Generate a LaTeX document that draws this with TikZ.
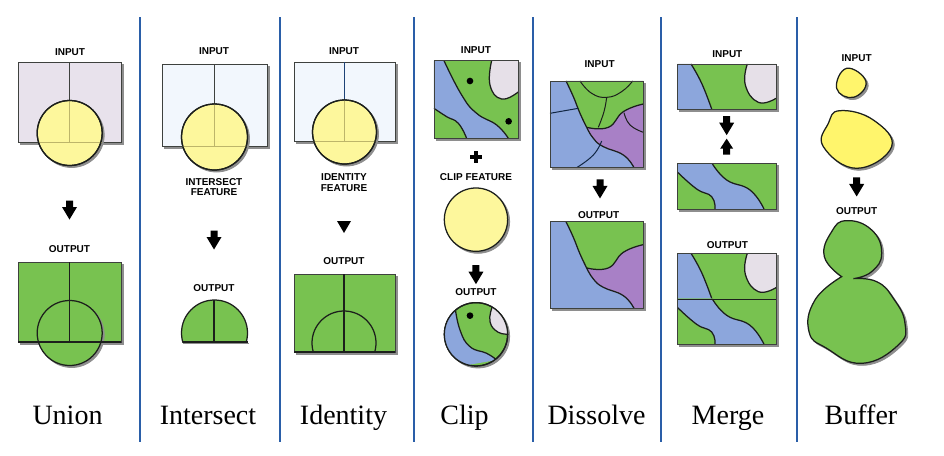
\documentclass[tikz,border=0pt]{standalone}
\usepackage{fontspec}
\setmainfont{Liberation Serif}
\newfontfamily\labelsans{Liberation Sans}
\definecolor{gr}{HTML}{78C250}
\definecolor{bl}{HTML}{8CA6DC}
\definecolor{lav}{HTML}{E6E0E8}
\definecolor{pur}{HTML}{A880C6}
\definecolor{yel}{HTML}{FDF79C}
\definecolor{yelb}{HTML}{FFF56C}
\definecolor{pblue}{HTML}{F2F7FD}
\definecolor{plav}{HTML}{E8E2EC}
\definecolor{ink}{HTML}{1C1F1C}
\definecolor{sepc}{HTML}{2A5EA8}
\definecolor{shc}{HTML}{8E8E8E}
\definecolor{faint}{HTML}{BDB56A}
\tikzset{
  x=1pt,y=-1pt,
  shad/.style={preaction={draw=shc,fill=shc,line width=.8pt,transform canvas={shift={(2pt,-2pt)}}}},
  ln/.style={draw=ink,line width=1.25pt},
  thinln/.style={draw=ink!85,line width=.9pt},
  faintln/.style={draw=faint,line width=.7pt},
  sep/.style={draw=sepc,line width=1.1pt},
  tag/.style={font=\labelsans\bfseries\fontsize{10}{10.5}\selectfont,align=center,inner sep=0pt,text=black},
  capt/.style={font=\fontsize{28}{30}\selectfont,inner sep=0pt,anchor=base,text=black},
  sm/.style={smooth,tension=.8},
  zoomB/.style={shift={(280,30)},x=.3333pt,y=-.3333pt},
  zoomC/.style={shift={(530,40)},x=.3333pt,y=-.3333pt},
  zoomD/.style={shift={(660,40)},x=.3333pt,y=-.3333pt},
  zoomE/.style={shift={(790,40)},x=.3333pt,y=-.3333pt},
  pics/dn/.style={code={\fill[black,x=1pt,y=-1pt] (-3.5,-9.5) -- (3.5,-9.5) -- (3.5,-3) -- (7.5,-3) -- (0,9.5) -- (-7.5,-3) -- (-3.5,-3) -- cycle;}},
  pics/up/.style={code={\fill[black,x=1pt,y=-1pt] (-3.5,8) -- (3.5,8) -- (3.5,2) -- (6.5,2) -- (0,-8) -- (-6.5,2) -- (-3.5,2) -- cycle;}},
  pics/plussign/.style={code={\fill[black,x=1pt,y=-1pt] (-1.6,-6) rectangle (1.6,6); \fill[black,x=1pt,y=-1pt] (-6,-1.6) rectangle (6,1.6);}},
}
% merge regions, in zoom coordinates
\newcommand{\mergeTopFill}{
  \fill[bl] (53,72) -- plot[sm] coordinates {(93,72) (125,130) (155,207)} -- (53,207) -- cycle;
  \fill[lav] plot[sm] coordinates {(262,72) (256,135) (295,187) (348,175)} -- (348,72) -- cycle;
  \draw[ln] plot[sm] coordinates {(93,72) (125,130) (155,207)};
  \draw[ln] plot[sm] coordinates {(262,72) (256,135) (295,187) (348,175)};
}
\newcommand{\mergeLowFill}{
  \fill[bl] plot[sm] coordinates {(53,397) (110,447) (155,470) (165,507)} -- plot[sm] coordinates {(312,507) (270,450) (200,420) (157,371)} -- (53,371) -- cycle;
  \draw[ln] plot[sm] coordinates {(53,397) (110,447) (155,470) (165,507)};
  \draw[ln] plot[sm] coordinates {(312,507) (270,450) (200,420) (157,371)};
}
\newcommand{\dissolveBase}{
  \fill[bl] (60,123) rectangle (340,383);
  \fill[gr] plot[sm] coordinates {(108,123) (130,170) (150,220) (170,262)} -- plot[sm] coordinates {(170,262) (235,262) (280,215) (340,192)} -- (340,123) -- cycle;
  \fill[pur] plot[sm] coordinates {(170,262) (235,262) (280,215) (340,192)} -- (340,383) -- plot[sm] coordinates {(312,383) (280,345) (220,320) (190,295) (170,262)} -- cycle;
  \draw[ln] plot[sm] coordinates {(108,123) (130,170) (150,220) (170,262)};
  \draw[ln] plot[sm] coordinates {(170,262) (235,262) (280,215) (340,192)};
  \draw[ln] plot[sm] coordinates {(312,383) (280,345) (220,320) (190,295) (170,262)};
}
\newcommand{\clipRegions}{
  \fill[bl] (462,92) -- plot[sm] coordinates {(492,92) (545,195) (590,250) (650,285) (685,325)} -- plot[sm] coordinates {(560,325) (535,280) (500,260) (462,235)} -- cycle;
  \fill[lav] plot[sm] coordinates {(635,92) (630,165) (665,207) (716,185)} -- (716,92) -- cycle;
  \draw[ln] plot[sm] coordinates {(492,92) (545,195) (590,250) (650,285) (685,325)};
  \draw[ln] plot[sm] coordinates {(560,325) (535,280) (500,260) (462,235)};
  \draw[ln] plot[sm] coordinates {(635,92) (630,165) (665,207) (716,185)};
}
\begin{document}
\begin{tikzpicture}
\useasboundingbox (0,0) rectangle (944,455);
\fill[white] (0,0) rectangle (944,455);

% separators
\foreach \sx in {140,280,414,533,661,797} \draw[sep] (\sx,17) -- (\sx,442);

% Union
\node[tag] (uIn) at (70,52) {INPUT};
\path[shad,fill=plav,thinln] (18,62) rectangle (121,142);
\draw[thinln,line width=1pt] (69.7,62) -- (69.7,100);
\path[shad,fill=yel,ln] (69.7,133) circle (32.5);
\draw[faintln] (69.7,101) -- (69.7,142) (37.5,142) -- (102,142);
\path[ln] (69.7,133) circle (32.5);
\pic at (69.5,210) {dn};
\node[tag] (uOut) at (69.5,249) {OUTPUT};
\path[shad,fill=gr,thinln] (18,262) rectangle (121,342);
\path[shad,fill=gr,ln] (69.7,333) circle (32.5);
\draw[ln] (69.7,262) -- (69.7,342) (18,342) -- (121,342);
\node[capt] (uName) at (67.5,424) {Union};

% Intersect
\node[tag] (iIn) at (214,51) {INPUT};
\path[shad,fill=pblue,thinln] (162,64) rectangle (267,146);
\draw[thinln,line width=1pt] (214.5,64) -- (214.5,104);
\path[shad,fill=yel,ln] (214.5,137) circle (33);
\draw[faintln] (214.5,104) -- (214.5,146) (182,146) -- (247,146);
\path[ln] (214.5,137) circle (33);
\node[tag] (iF) at (214,187) {INTERSECT\\[-.5pt]FEATURE};
\pic at (214,240) {dn};
\node[tag] (iOut) at (214,288) {OUTPUT};
\draw[shc,line width=1.4pt] (183,343.5) -- (249,343.5);
\begin{scope}
  \clip (170,290) rectangle (260,342);
  \path[fill=gr] (214.5,333) circle (33);
  \draw[ln] (214.5,333) circle (33);
\end{scope}
\draw[ln] (182.5,342) -- (247.5,342) (214,300) -- (214,342);
\node[capt] (iName) at (208,424) {Intersect};

% Identity
\node[tag] (dIn) at (344,51) {INPUT};
\path[shad,fill=pblue,thinln] (294,62) rectangle (395,141);
\draw[thinln,line width=1pt,draw=sepc!70!black] (344,62) -- (344,100);
\path[shad,fill=yel,ln] (344.5,132) circle (32);
\draw[faintln] (344.5,100) -- (344.5,141) (313,141) -- (376,141);
\path[ln] (344.5,132) circle (32);
\node[tag] (dF) at (344,182.5) {IDENTITY\\[.5pt]FEATURE};
\fill[black] (337,221) -- (351,221) -- (344,233) -- cycle;
\node[tag] (dOut) at (344,261) {OUTPUT};
\path[shad,fill=gr,thinln] (294,274) rectangle (395,352);
\begin{scope}
  \clip (290,274) rectangle (400,352);
  \draw[ln] (344,343) circle (32);
\end{scope}
\draw[ln] (344,274) -- (344,352) (294,352) -- (395,352);
\node[capt] (dName) at (343.5,424) {Identity};

% Clip
\begin{scope}[zoomB]
  \node[tag] (cIn) at (588,60) {INPUT};
  \path[shad,fill=gr,thinln] (462,92) rectangle (716,325);
  \clipRegions
  \fill[black] (570,153) circle (10) (686,274) circle (10);
  \draw[thinln] (462,92) rectangle (716,325);
  \coordinate (cPlus) at (588,381);
  \node[tag] (cF) at (588,441) {CLIP FEATURE};
  \path[shad,fill=yel,ln] (588,569) circle (95);
  \coordinate (cArrow) at (588,734);
  \node[tag] (cOut) at (588,787) {OUTPUT};
  \path[shad,fill=gr,ln] (588,913) circle (95);
  \begin{scope}
    \clip (588,913) circle (95);
    \fill[bl] plot[sm] coordinates {(525,830) (540,900) (570,950) (620,970) (650,990)} -- (480,1020) -- (470,830) -- cycle;
    \fill[lav] plot[sm] coordinates {(637,830) (630,875) (655,907) (690,912)} -- (700,820) -- cycle;
    \draw[ln] plot[sm] coordinates {(525,830) (540,900) (570,950) (620,970) (650,990)};
    \draw[ln] plot[sm] coordinates {(637,830) (630,875) (655,907) (690,912)};
  \end{scope}
  \fill[black] (570,857) circle (10);
  \path[ln] (588,913) circle (95);
\end{scope}
\pic at (cPlus) {plussign};
\pic at (cArrow) {dn};
\node[capt] (cName) at (464.5,424) {Clip};

% Dissolve
\begin{scope}[zoomC]
  \node[tag] (sIn) at (209,73) {INPUT};
  \path[shad,fill=bl,thinln] (60,123) rectangle (340,383);
  \dissolveBase
  \draw[ln,line width=1pt] plot[sm] coordinates {(150,123) (185,160) (230,172) (275,155) (308,123)};
  \draw[ln,line width=1pt] plot[sm] coordinates {(230,172) (222,215) (205,262)};
  \draw[ln,line width=1pt,draw=sepc!40!black] plot[sm] coordinates {(60,220) (105,212) (145,205)};
  \draw[ln,line width=1pt] plot[sm] coordinates {(282,218) (300,255) (340,277)};
  \draw[ln,line width=1pt,draw=sepc!40!black] plot[sm] coordinates {(215,303) (190,345) (140,383)};
  \draw[thinln] (60,123) rectangle (340,383);
  \coordinate (sArrow) at (210,447);
  \node[tag] (sOut) at (206,525) {OUTPUT};
  \path[shad,fill=bl,thinln] (60,545) rectangle (340,805);
  \begin{scope}[shift={(0,422)}]
    \dissolveBase
    \draw[thinln] (60,123) rectangle (340,383);
  \end{scope}
\end{scope}
\pic at (sArrow) {dn};
\node[capt] (sName) at (596.5,424) {Dissolve};

% Merge
\begin{scope}[zoomD]
  \node[tag] (mIn) at (202,42) {INPUT};
  \path[shad,fill=gr,thinln] (53,72) rectangle (348,207);
  \mergeTopFill
  \draw[thinln] (53,72) rectangle (348,207);
  \coordinate (mDown) at (200,257);
  \coordinate (mUp) at (200,320);
  \path[shad,fill=gr,thinln] (53,371) rectangle (348,507);
  \mergeLowFill
  \draw[thinln] (53,371) rectangle (348,507);
  \node[tag] (mOut) at (202,614) {OUTPUT};
  \path[shad,fill=gr,thinln] (53,640) rectangle (348,913);
  \begin{scope}[shift={(0,568)}]\mergeTopFill\end{scope}
  \begin{scope}[shift={(0,406)}]\mergeLowFill\end{scope}
  \draw[thinln] (53,640) rectangle (348,913);
  \draw[ln,line width=.9pt] (53,777) -- (348,777);
\end{scope}
\pic at (mDown) {dn};
\pic at (mUp) {up};
\node[capt] (mName) at (728,424) {Merge};

% Buffer
\begin{scope}[zoomE]
  \node[tag] (bIn) at (200,53) {INPUT};
  \path[shad,fill=yelb,ln] plot[smooth cycle,tension=.8] coordinates {(170,85) (228,125) (190,172) (140,145)};
  \path[shad,fill=yelb,ln] plot[smooth cycle,tension=.75] coordinates {(150,212) (250,240) (305,320) (200,385) (100,320) (115,250)};
  \coordinate (bArrow) at (200,441);
  \node[tag] (bOut) at (200,513) {OUTPUT};
  \path[shad,fill=gr,ln] plot[smooth,tension=.8] coordinates {(155,710) (103,650) (125,575) (170,542) (245,570) (275,640) (245,695) (190,716)} -- plot[smooth,tension=.8] coordinates {(190,716) (260,725) (310,775) (345,850) (325,915) (215,970) (110,925) (57,875) (75,780) (155,710)} -- cycle;
\end{scope}
\pic at (bArrow) {dn};
\node[capt] (bName) at (861,424) {Buffer};
\end{tikzpicture}
\end{document}
